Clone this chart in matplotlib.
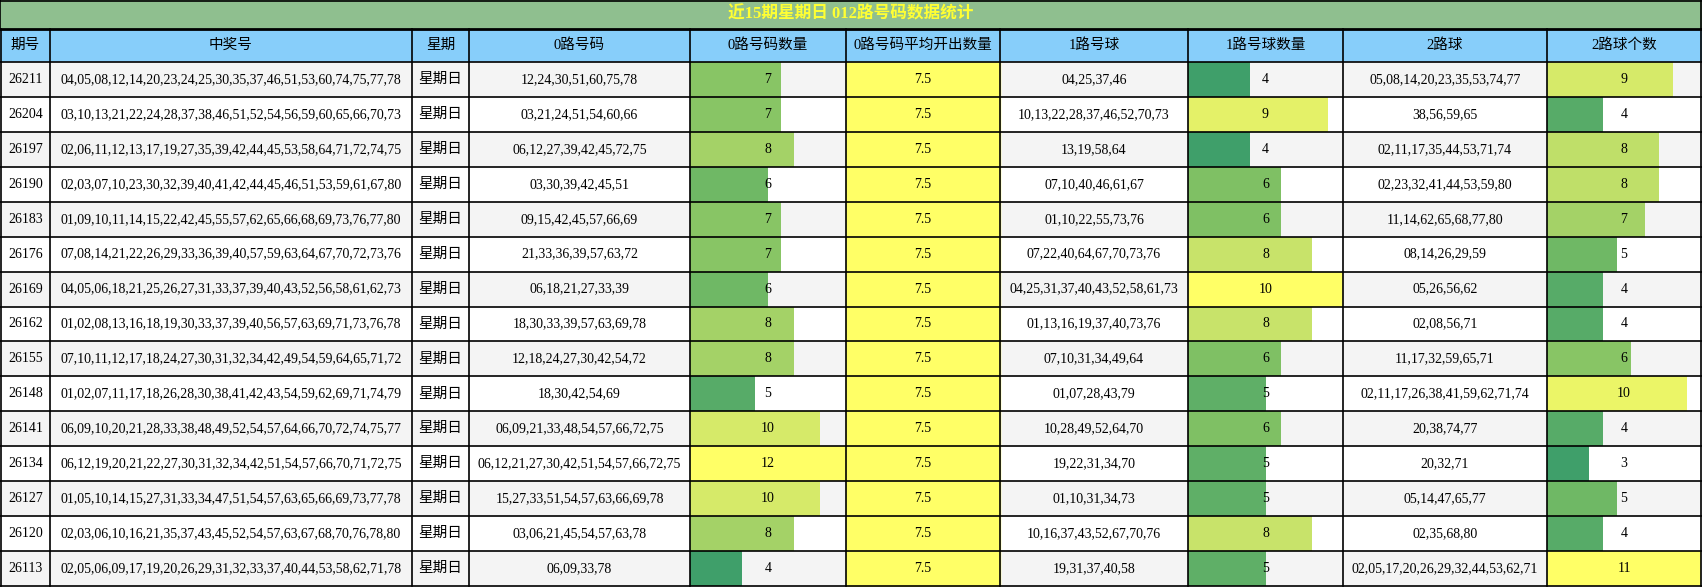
import matplotlib
matplotlib.use("Agg")
import matplotlib.pyplot as plt
from matplotlib.colors import LinearSegmentedColormap, Normalize

plt.rcParams['font.family'] = ['Liberation Serif', 'Noto Sans CJK SC']

title = "近15期星期日 012路号码数据统计"
headers = ["期号", "中奖号", "星期", "0路号码", "0路号码数量", "0路号码平均开出数量",
           "1路号球", "1路号球数量", "2路球", "2路球个数"]
issues = ["26211","26204","26197","26190","26183","26176","26169","26162","26155",
          "26148","26141","26134","26127","26120","26113"]
draws = [
"04,05,08,12,14,20,23,24,25,30,35,37,46,51,53,60,74,75,77,78",
"03,10,13,21,22,24,28,37,38,46,51,52,54,56,59,60,65,66,70,73",
"02,06,11,12,13,17,19,27,35,39,42,44,45,53,58,64,71,72,74,75",
"02,03,07,10,23,30,32,39,40,41,42,44,45,46,51,53,59,61,67,80",
"01,09,10,11,14,15,22,42,45,55,57,62,65,66,68,69,73,76,77,80",
"07,08,14,21,22,26,29,33,36,39,40,57,59,63,64,67,70,72,73,76",
"04,05,06,18,21,25,26,27,31,33,37,39,40,43,52,56,58,61,62,73",
"01,02,08,13,16,18,19,30,33,37,39,40,56,57,63,69,71,73,76,78",
"07,10,11,12,17,18,24,27,30,31,32,34,42,49,54,59,64,65,71,72",
"01,02,07,11,17,18,26,28,30,38,41,42,43,54,59,62,69,71,74,79",
"06,09,10,20,21,28,33,38,48,49,52,54,57,64,66,70,72,74,75,77",
"06,12,19,20,21,22,27,30,31,32,34,42,51,54,57,66,70,71,72,75",
"01,05,10,14,15,27,31,33,34,47,51,54,57,63,65,66,69,73,77,78",
"02,03,06,10,16,21,35,37,43,45,52,54,57,63,67,68,70,76,78,80",
"02,05,06,09,17,19,20,26,29,31,32,33,37,40,44,53,58,62,71,78"]
weekday = "星期日"
road0 = ["12,24,30,51,60,75,78","03,21,24,51,54,60,66","06,12,27,39,42,45,72,75",
         "03,30,39,42,45,51","09,15,42,45,57,66,69","21,33,36,39,57,63,72",
         "06,18,21,27,33,39","18,30,33,39,57,63,69,78","12,18,24,27,30,42,54,72",
         "18,30,42,54,69","06,09,21,33,48,54,57,66,72,75","06,12,21,27,30,42,51,54,57,66,72,75",
         "15,27,33,51,54,57,63,66,69,78","03,06,21,45,54,57,63,78","06,09,33,78"]
count0 = [7,7,8,6,7,7,6,8,8,5,10,12,10,8,4]
avg0 = [7.5]*15
road1 = ["04,25,37,46","10,13,22,28,37,46,52,70,73","13,19,58,64","07,10,40,46,61,67",
         "01,10,22,55,73,76","07,22,40,64,67,70,73,76","04,25,31,37,40,43,52,58,61,73",
         "01,13,16,19,37,40,73,76","07,10,31,34,49,64","01,07,28,43,79","10,28,49,52,64,70",
         "19,22,31,34,70","01,10,31,34,73","10,16,37,43,52,67,70,76","19,31,37,40,58"]
count1 = [4,9,4,6,6,8,10,8,6,5,6,5,5,8,5]
road2 = ["05,08,14,20,23,35,53,74,77","38,56,59,65","02,11,17,35,44,53,71,74",
         "02,23,32,41,44,53,59,80","11,14,62,65,68,77,80","08,14,26,29,59","05,26,56,62",
         "02,08,56,71","11,17,32,59,65,71","02,11,17,26,38,41,59,62,71,74","20,38,74,77",
         "20,32,71","05,14,47,65,77","02,35,68,80","02,05,17,20,26,29,32,44,53,62,71"]
count2 = [9,4,8,8,7,5,4,4,6,10,4,3,5,4,11]

W, H = 1702, 587
fig = plt.figure(figsize=(W/100, H/100), dpi=100)
ax = fig.add_axes([0, 0, 1, 1])
ax.set_xlim(0, W); ax.set_ylim(H, 0); ax.axis('off')

xs = [1, 50, 412, 469, 690, 846, 1000, 1188, 1343, 1547, 1701]
title_h, head_top, head_bot = 0, 29, 62
rh = (H - 1 - head_bot) / 15
cmap = LinearSegmentedColormap.from_list("g", ["#3f9f6a", "#7fc064", "#c8e36a", "#ffff66"])

# title
ax.add_patch(plt.Rectangle((0, 0), W, head_top, color="#8fbf8f", zorder=0))
ax.text(W/2, head_top/2, title, ha='center', va='center', color="#ffff33",
        fontsize=12, fontweight='bold')
# header
ax.add_patch(plt.Rectangle((0, head_top), W, head_bot-head_top, color="#87cefa", zorder=0))
for i, h in enumerate(headers):
    ax.text((xs[i]+xs[i+1])/2, (head_top+head_bot)/2, h, ha='center', va='center', fontsize=10.5)

tops = [head_bot + r*rh for r in range(15)]
for r in range(15):
    ax.add_patch(plt.Rectangle((0, tops[r]), W, rh, color="#f4f4f4" if r % 2 == 0 else "white", zorder=0))
    ax.add_patch(plt.Rectangle((xs[5], tops[r]), xs[6]-xs[5], rh, color="#ffff66", zorder=1))

centers = [t + rh/2 for t in tops]
for col, vals in ((4, count0), (7, count1), (9, count2)):
    x0, x1 = xs[col], xs[col+1]
    vmax = max(vals)
    norm = Normalize(min(vals), vmax)
    widths = [v / vmax * (x1 - x0) for v in vals]
    ax.barh(centers, widths, left=x0, height=rh, color=[cmap(norm(v)) for v in vals], zorder=1)
    for c, v in zip(centers, vals):
        ax.text((x0+x1)/2, c, str(v), ha='center', va='center', fontsize=10, zorder=3)

cols = [issues, draws, [weekday]*15, road0, None, [f"{a}" for a in avg0], road1, None, road2, None]
for i, data in enumerate(cols):
    if data is None:
        continue
    for c, s in zip(centers, data):
        ax.text((xs[i]+xs[i+1])/2, c, s, ha='center', va='center',
                fontsize=10.5 if i == 2 else 10, zorder=3)

# grid lines
lw = 1.2
for x in xs:
    ax.plot([x, x], [head_top, H-1], color='black', lw=lw, zorder=4)
for x in (0, W-1):
    ax.plot([x, x], [0, head_top], color='black', lw=lw, zorder=4)
for y in [1, head_top, head_bot] + tops[1:] + [H-1]:
    ax.plot([0, W], [y, y], color='black', lw=2 if y == head_top else lw, zorder=4)

fig.savefig("out.png", dpi=100)
